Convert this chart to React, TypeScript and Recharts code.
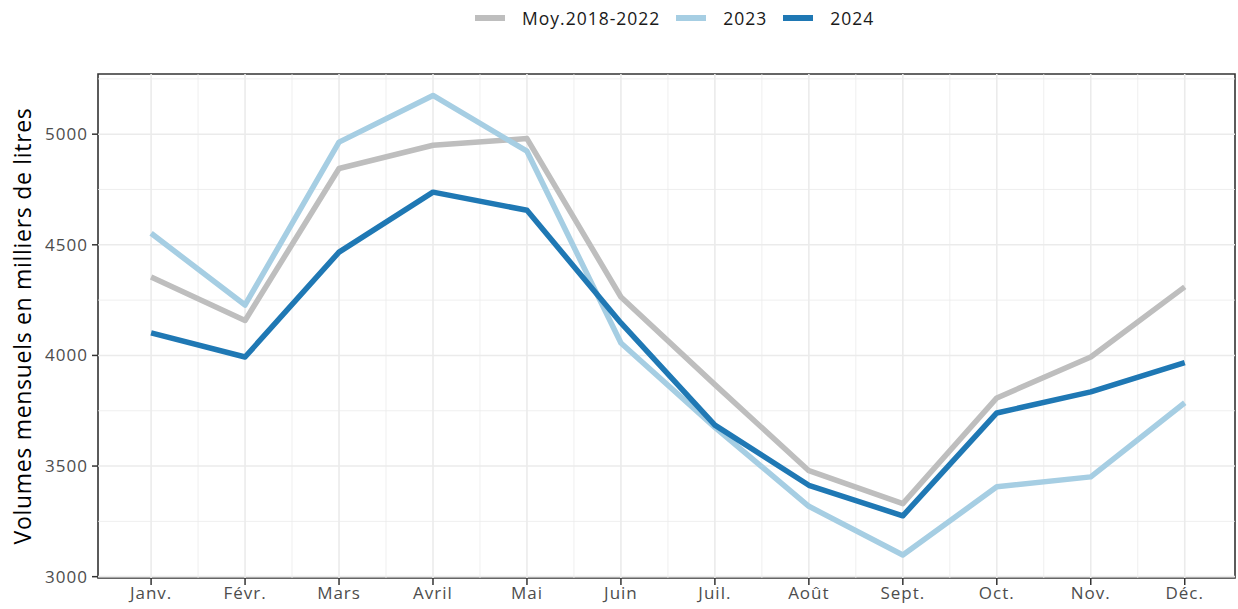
import {
  LineChart,
  Line,
  XAxis,
  YAxis,
  ReferenceLine,
  ReferenceArea,
} from "recharts";

const months = [
  "Janv.",
  "Févr.",
  "Mars",
  "Avril",
  "Mai",
  "Juin",
  "Juil.",
  "Août",
  "Sept.",
  "Oct.",
  "Nov.",
  "Déc.",
];
const moyenne = [4354, 4158, 4845, 4950, 4980, 4264, 3868, 3479, 3330, 3808, 3993, 4310];
const vol2023 = [4552, 4228, 4964, 5175, 4923, 4056, 3675, 3318, 3098, 3406, 3451, 3786];
const vol2024 = [4102, 3993, 4467, 4738, 4656, 4147, 3685, 3413, 3275, 3740, 3835, 3968];

const yTicks = [3000, 3500, 4000, 4500, 5000];
const yMinor = [3250, 3750, 4250, 4750, 5250];
const xDomain: [number, number] = [-0.565, 11.535];
const yDomain: [number, number] = [2994, 5272];

const series = [
  { key: "moy", name: "Moy.2018-2022", color: "#bebebe" },
  { key: "v2023", name: "2023", color: "#a6cee3" },
  { key: "v2024", name: "2024", color: "#1f78b4" },
];

const data = months.map((m, i) => ({
  x: i,
  month: m,
  moy: moyenne[i],
  v2023: vol2023[i],
  v2024: vol2024[i],
}));

const FONT = "'Open Sans', Lato, sans-serif";
const monthIdx = months.map((_, i) => i);
const halfIdx = months.slice(0, 11).map((_, i) => i + 0.5);
const tickStyle = { fill: "#4d4d4d", fontSize: 17, fontFamily: FONT, letterSpacing: 1 };

function Legend() {
  return (
    <div
      style={{
        position: "absolute",
        top: 6,
        left: 475,
        display: "flex",
        alignItems: "center",
        fontFamily: FONT,
        fontSize: 17.5,
        letterSpacing: 1,
        color: "#1a1a1a",
        whiteSpace: "nowrap",
      }}
    >
      {series.map((s) => (
        <div key={s.key} style={{ display: "flex", alignItems: "center", marginRight: 16 }}>
          <div style={{ width: 30, height: 6, background: s.color, marginRight: 17 }} />
          <span>{s.name}</span>
        </div>
      ))}
    </div>
  );
}

export default function App() {
  return (
    <div style={{ position: "absolute", left: 0, top: 0, width: 1238, height: 609, background: "#fff" }}>
      <Legend />
      <LineChart
        width={1238}
        height={609}
        data={data}
        margin={{ top: 74, right: 3, bottom: 0, left: 0 }}
      >
        <XAxis
          dataKey="x"
          type="number"
          domain={xDomain}
          ticks={monthIdx}
          allowDataOverflow
          interval={0}
          tickFormatter={(i: number) => months[i]}
          axisLine={false}
          tickLine={{ stroke: "#333", strokeWidth: 1.5 }}
          tickSize={7}
          height={31}
          tick={tickStyle}
        />
        <YAxis
          type="number"
          domain={yDomain}
          ticks={yTicks}
          allowDataOverflow
          axisLine={false}
          tickLine={{ stroke: "#333", strokeWidth: 1.5 }}
          tickSize={6}
          tickMargin={4}
          width={98}
          tick={tickStyle}
          label={{
            content: (props: any) => {
              const vb = props.viewBox || { x: 0, y: 74, height: 504 };
              const cx = vb.x + 22;
              const cy = vb.y + vb.height / 2;
              return (
                <text
                  x={cx}
                  y={cy}
                  transform={`rotate(-90 ${cx} ${cy})`}
                  textAnchor="middle"
                  dominantBaseline="central"
                  fill="#000"
                  fontSize={23}
                  letterSpacing={0.7}
                  fontFamily={FONT}
                >
                  Volumes mensuels en milliers de litres
                </text>
              );
            },
          }}
        />
        {yMinor.map((v) => (
          <ReferenceLine key={"ym" + v} y={v} stroke="#ebebeb" strokeWidth={0.8} />
        ))}
        {halfIdx.map((v) => (
          <ReferenceLine key={"xm" + v} x={v} stroke="#ebebeb" strokeWidth={0.8} />
        ))}
        {yTicks.map((v) => (
          <ReferenceLine key={"y" + v} y={v} stroke="#ebebeb" strokeWidth={1.6} />
        ))}
        {monthIdx.map((v) => (
          <ReferenceLine key={"x" + v} x={v} stroke="#ebebeb" strokeWidth={1.6} />
        ))}
        {series.map((s) => (
          <Line
            key={s.key}
            type="linear"
            dataKey={s.key}
            name={s.name}
            stroke={s.color}
            strokeWidth={5.5}
            strokeLinejoin="round"
            dot={false}
            activeDot={false}
            isAnimationActive={false}
          />
        ))}
        <ReferenceArea
          x1={xDomain[0]}
          x2={xDomain[1]}
          y1={yDomain[0]}
          y2={yDomain[1]}
          fill="none"
          stroke="#333"
          strokeWidth={1.6}
          ifOverflow="visible"
        />
      </LineChart>
    </div>
  );
}
